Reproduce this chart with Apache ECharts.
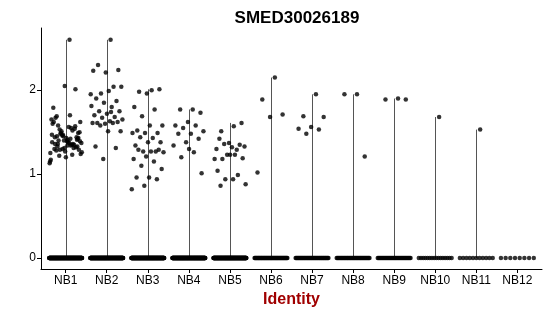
<!DOCTYPE html>
<html>
<head>
<meta charset="utf-8">
<script src="https://cdn.jsdelivr.net/npm/echarts@6/dist/echarts.min.js"></script>
<style>html,body{margin:0;padding:0;background:#fff}#c{width:550px;height:316px}</style>
</head>
<body>
<div id="c"></div>
<script>
const title = "SMED30026189";
const categories = ["NB1","NB2","NB3","NB4","NB5","NB6","NB7","NB8","NB9","NB10","NB11","NB12"];
const yTicks = [0, 1, 2];
// number of cells with zero expression per cluster (estimated from the dense band)
const zeroCounts = [200, 200, 200, 200, 200, 60, 50, 45, 40, 16, 11, 8];
// non-zero expression values per cluster
const NB1 = [2.60, 1.45, 1.33, 2.05, 1.38, 1.52, 1.29, 1.62, 1.41, 1.36, 2.01, 1.47, 1.25, 1.34, 1.58, 1.43, 1.20,
  1.79, 1.31, 1.49, 1.37, 1.56, 1.28, 1.44, 1.40, 1.65, 1.35, 1.22, 1.50, 1.39, 1.30, 1.54, 1.46, 1.13, 1.70,
  1.33, 1.42, 1.27, 1.60, 1.36, 1.48, 1.24, 1.38, 1.67, 1.32, 1.45, 1.17, 1.55, 1.40, 1.29, 1.43, 1.62, 1.35,
  1.51, 1.26, 1.37, 1.69, 1.41, 1.31, 1.47, 1.23, 1.53, 1.39, 1.34, 1.44, 1.57, 1.30, 1.15, 1.42, 1.36, 1.49];
const NB2 = [2.60, 2.30, 2.24, 2.21, 2.23, 2.04, 1.96, 2.04, 1.99, 1.90, 1.87, 1.85, 1.81, 1.80, 1.75, 1.75, 1.72,
  1.70, 1.68, 1.67, 1.65, 1.63, 1.61, 1.62, 1.60, 1.61, 1.61, 1.58, 1.51, 1.51, 1.33, 1.31, 1.18, 1.95, 1.74];
const NB3 = [2.00, 1.98, 2.01, 1.96, 1.80, 1.77, 1.69, 1.58, 1.58, 1.52, 1.49, 1.49, 1.49, 1.43, 1.44, 1.38, 1.38,
  1.34, 1.27, 1.27, 1.26, 1.27, 1.29, 1.29, 1.21, 1.18, 1.15, 1.10, 1.06, 0.96, 0.96, 0.94, 0.86, 0.82];
const NB4 = [1.77, 1.77, 1.73, 1.62, 1.58, 1.58, 1.55, 1.51, 1.48, 1.48, 1.42, 1.38, 1.34, 1.26, 1.20, 1.01, 1.30];
const NB5 = [1.57, 1.51, 1.61, 1.37, 1.30, 1.29, 1.36, 1.33, 1.32, 1.42, 1.35, 1.23, 1.18, 1.23, 1.18, 1.19, 1.23,
  1.04, 0.99, 0.94, 0.88, 0.94, 0.86];
const NB6 = [2.15, 1.89, 1.71, 1.68, 1.02];
const NB7 = [1.95, 1.69, 1.68, 1.56, 1.54, 1.53, 1.48];
const NB8 = [1.95, 1.95, 1.21];
const NB9 = [1.90, 1.89, 1.89];
const NB10 = [1.68];
const NB11 = [1.53];
const NB12 = [];
const clusterValues = [NB1, NB2, NB3, NB4, NB5, NB6, NB7, NB8, NB9, NB10, NB11, NB12];

// deterministic horizontal jitter (positions only)
const JW = 0.4;
const pts = [];
clusterValues.forEach((vals, ci) => {
  const n0 = zeroCounts[ci];
  for (let k = 0; k < n0; k++) {
    const off = n0 > 1 ? -JW + 2 * JW * k / (n0 - 1) : 0;
    pts.push([ci + 1 + off, 0]);
  }
  vals.forEach((v, k) => {
    const f = ((k + 1) * 0.6180339887) % 1;
    pts.push([ci + 1 + (f - 0.5) * 2 * JW, v]);
  });
});
const tails = clusterValues.map((vals, ci) => [ci + 1, vals.length ? Math.max.apply(null, vals) : 0]);

const chart = echarts.init(document.getElementById('c'), null, {renderer: 'canvas'});
chart.setOption({
  animation: false,
  backgroundColor: '#fff',
  title: {
    text: title, left: 292, top: 5, textAlign: 'center',
    textStyle: {fontFamily: 'Liberation Sans', fontSize: 17, fontWeight: 'bold', color: '#000'}
  },
  grid: {left: 41, right: 8, top: 28, bottom: 47, containLabel: false},
  xAxis: {
    type: 'value', min: 0.4, max: 12.6,
    name: 'Identity', nameLocation: 'middle', nameGap: 22,
    nameTextStyle: {fontFamily: 'Liberation Sans', fontSize: 16, fontWeight: 'bold', color: '#a00000'},
    axisLine: {show: true, onZero: false, lineStyle: {color: '#000', width: 1}},
    axisTick: {show: true, length: 4, lineStyle: {color: '#000'}, customValues: categories.map((c, i) => i + 1)},
    axisLabel: {show: true, margin: 6, fontFamily: 'Liberation Sans', fontSize: 12, color: '#000',
      customValues: categories.map((c, i) => i + 1),
      formatter: v => categories[Math.round(v) - 1] || ''},
    splitLine: {show: false}
  },
  yAxis: {
    type: 'value', min: -0.1305, max: 2.7405,
    axisLine: {show: true, onZero: false, lineStyle: {color: '#000', width: 1}},
    axisTick: {show: true, length: 4, lineStyle: {color: '#000'}, customValues: yTicks},
    axisLabel: {show: true, margin: 5, fontFamily: 'Liberation Sans', fontSize: 12, color: '#000',
      customValues: yTicks, formatter: v => String(v)},
    splitLine: {show: false}
  },
  series: [
    {
      type: 'custom',
      data: tails,
      renderItem: function (params, api) {
        const x = api.value(0), top = api.value(1);
        if (top <= 0) return null;
        const p0 = api.coord([x, 0]);
        const p1 = api.coord([x, top]);
        return {type: 'line', shape: {x1: Math.round(p0[0]) + 0.5, y1: p0[1], x2: Math.round(p1[0]) + 0.5, y2: p1[1]},
          style: {stroke: '#555', lineWidth: 1}};
      },
      z: 1
    },
    {
      type: 'scatter',
      data: pts,
      symbol: 'circle',
      symbolSize: 4.5,
      itemStyle: {color: '#000'},
      z: 2
    }
  ]
});
</script>
</body>
</html>
